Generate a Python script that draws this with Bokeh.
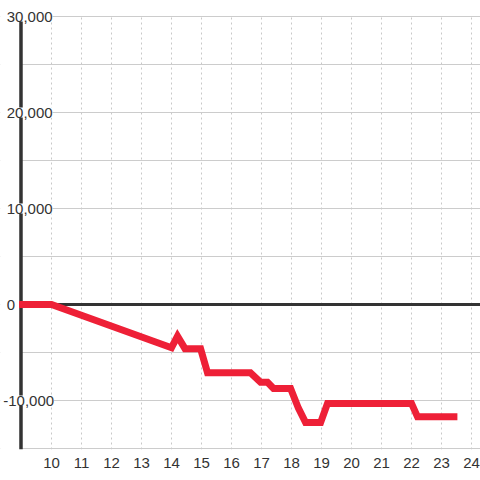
from bokeh.plotting import figure
from bokeh.models import FixedTicker, Range1d, BoxAnnotation, Label
from bokeh.embed import file_html
from bokeh.resources import INLINE

# data
hours = [8.92, 10.0, 14.0, 14.2, 14.45, 14.97, 15.2, 16.63, 16.97, 17.2, 17.4,
         17.97, 18.23, 18.47, 18.97, 19.2, 22.0, 22.2, 23.53]
values = [0, 0, -4500, -3300, -4600, -4600, -7100, -7100, -8100, -8100, -8750,
          -8750, -10800, -12300, -12300, -10300, -10300, -11700, -11700]
x_ticks = list(range(10, 25))
y_ticks = [-10000, 0, 10000, 20000, 30000]
y_tick_labels = ["-10,000", "0", "10,000", "20,000", "30,000"]
y_grid = [-15000, -10000, -5000, 0, 5000, 10000, 15000, 20000, 25000, 30000]

FONT = "Liberation Sans"
TXT = "#333333"

X0, X1 = 8.3, 24.3          # visible x extent (frame)
AX = 8.983                   # where the y axis line sits
Y0, Y1 = -15104, 31667       # visible y extent (frame)
YMIN, YMAX = -15000, 30000   # axis extent

p = figure(width=480, height=480, output_backend="svg", toolbar_location=None,
           x_range=Range1d(X0, X1), y_range=Range1d(Y0, Y1),
           min_border_left=0, min_border_right=0, min_border_top=0,
           min_border_bottom=31)
p.outline_line_color = None
p.background_fill_color = "white"
p.yaxis.visible = False

# x axis (labels only)
p.xaxis.ticker = FixedTicker(ticks=x_ticks)
p.xaxis.major_tick_line_color = None
p.xaxis.minor_tick_line_color = None
p.xaxis.axis_line_color = None
p.xaxis.major_label_text_font = FONT
p.xaxis.major_label_text_font_size = "15px"
p.xaxis.major_label_text_color = TXT
p.xaxis.major_label_standoff = 2

# grids
p.xgrid.ticker = FixedTicker(ticks=x_ticks)
p.xgrid.grid_line_color = "#c8c8c8"
p.xgrid.grid_line_dash = "2 3"
p.xgrid.grid_line_width = 1
p.ygrid.ticker = FixedTicker(ticks=y_grid)
p.ygrid.grid_line_color = "#cccccc"
p.ygrid.grid_line_width = 1

# hide grid outside the axis area
p.add_layout(BoxAnnotation(right=AX - 0.03, fill_color="white", fill_alpha=1,
                           line_color=None, level="underlay"))
p.add_layout(BoxAnnotation(bottom=YMAX + 150, fill_color="white", fill_alpha=1,
                           line_color=None, level="underlay"))

# axis line and zero line
p.segment(x0=[AX], y0=[YMIN - 104], x1=[AX], y1=[YMAX], line_color="#333333", line_width=3.5)
p.segment(x0=[AX], y0=[0], x1=[X1], y1=[0], line_color="#333333", line_width=3)

# series
p.line(hours, values, line_color="#ee2037", line_width=7, line_join="miter")

# y labels over the axis
for v, t in zip(y_ticks, y_tick_labels):
    lx = X0 + (2.7 if t.startswith("-") else 6.2) / 30.0
    p.add_layout(Label(x=lx, y=v, text=t, text_align="left", text_baseline="middle",
                       text_font=FONT, text_font_size="15px", text_color=TXT,
                       background_fill_color="white"))

open("out.html", "w").write(file_html(p, INLINE))
